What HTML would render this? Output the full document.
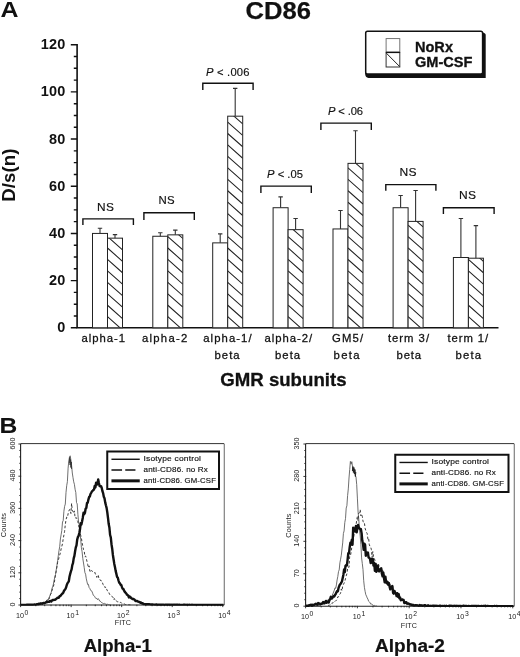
<!DOCTYPE html>
<html lang="en"><head><meta charset="utf-8"><title>CD86</title>
<style>html,body{margin:0;padding:0;background:#fff}svg{display:block}text{font-family:"Liberation Sans", sans-serif}</style>
</head><body>
<svg width="520" height="657" viewBox="0 0 520 657" font-family='"Liberation Sans", sans-serif' fill="#111">
<text x="0.52" y="17.3" font-size="21.8" font-weight="bold" textLength="17.98" lengthAdjust="spacingAndGlyphs" >A</text>
<text x="245.58" y="19.0" font-size="24.8" font-weight="bold" textLength="65.40" lengthAdjust="spacingAndGlyphs" stroke="#111" stroke-width="0.25">CD86</text>
<path d="M77.1 44.0 V327.8 H498.5" fill="none" stroke="#111" stroke-width="1.6"/>
<path d="M77.1 327.80 H70.8 M77.1 316.00 H73.8 M77.1 304.21 H73.8 M77.1 292.41 H73.8 M77.1 280.62 H70.8 M77.1 268.82 H73.8 M77.1 257.02 H73.8 M77.1 245.23 H73.8 M77.1 233.43 H70.8 M77.1 221.64 H73.8 M77.1 209.84 H73.8 M77.1 198.05 H73.8 M77.1 186.25 H70.8 M77.1 174.45 H73.8 M77.1 162.66 H73.8 M77.1 150.86 H73.8 M77.1 139.07 H70.8 M77.1 127.27 H73.8 M77.1 115.47 H73.8 M77.1 103.68 H73.8 M77.1 91.88 H70.8 M77.1 80.09 H73.8 M77.1 68.29 H73.8 M77.1 56.50 H73.8 M77.1 44.70 H70.8" fill="none" stroke="#111" stroke-width="1.4"/>
<text transform="translate(65.5 332.30) scale(1.05 1)" font-size="13.8" font-weight="bold" text-anchor="end" letter-spacing="0.2">0</text>
<text transform="translate(65.5 285.12) scale(1.05 1)" font-size="13.8" font-weight="bold" text-anchor="end" letter-spacing="0.2">20</text>
<text transform="translate(65.5 237.93) scale(1.05 1)" font-size="13.8" font-weight="bold" text-anchor="end" letter-spacing="0.2">40</text>
<text transform="translate(65.5 190.75) scale(1.05 1)" font-size="13.8" font-weight="bold" text-anchor="end" letter-spacing="0.2">60</text>
<text transform="translate(65.5 143.57) scale(1.05 1)" font-size="13.8" font-weight="bold" text-anchor="end" letter-spacing="0.2">80</text>
<text transform="translate(65.5 96.38) scale(1.05 1)" font-size="13.8" font-weight="bold" text-anchor="end" letter-spacing="0.2">100</text>
<text transform="translate(65.5 49.20) scale(1.05 1)" font-size="13.8" font-weight="bold" text-anchor="end" letter-spacing="0.2">120</text>
<text transform="translate(14.6 201.8) rotate(-90) scale(1 1.02)" font-size="18.6" font-weight="bold" letter-spacing="0.1">D/s(n)</text>
<defs><pattern id="h" width="8.1" height="8.1" patternUnits="userSpaceOnUse" patternTransform="rotate(43)"><line x1="0" y1="4" x2="8.1" y2="4" stroke="#111" stroke-width="1"/></pattern></defs>
<rect x="92.5" y="233.43" width="15.0" height="94.37" fill="#fff" stroke="#222" stroke-width="1"/>
<clipPath id="c92"><rect x="107.5" y="238.15" width="15.0" height="89.65"/></clipPath>
<rect x="107.5" y="238.15" width="15.0" height="89.65" fill="#fff"/>
<path d="M107.5 316.70 l15.0 13.3 M107.5 305.25 l15.0 13.3 M107.5 293.80 l15.0 13.3 M107.5 282.35 l15.0 13.3 M107.5 270.90 l15.0 13.3 M107.5 259.45 l15.0 13.3 M107.5 248.00 l15.0 13.3 M107.5 236.55 l15.0 13.3 M107.5 225.10 l15.0 13.3" clip-path="url(#c92)" fill="none" stroke="#222" stroke-width="1.05"/>
<rect x="107.5" y="238.15" width="15.0" height="89.65" fill="none" stroke="#222" stroke-width="1"/>
<path d="M100.00 233.43 V228.24 M97.80 228.24 h4.4" fill="none" stroke="#333" stroke-width="1.1"/>
<path d="M115.00 238.15 V234.61 M112.80 234.61 h4.4" fill="none" stroke="#333" stroke-width="1.1"/>
<rect x="152.8" y="236.26" width="15.0" height="91.54" fill="#fff" stroke="#222" stroke-width="1"/>
<clipPath id="c152"><rect x="167.8" y="234.85" width="15.0" height="92.95"/></clipPath>
<rect x="167.8" y="234.85" width="15.0" height="92.95" fill="#fff"/>
<path d="M167.8 316.70 l15.0 13.3 M167.8 305.25 l15.0 13.3 M167.8 293.80 l15.0 13.3 M167.8 282.35 l15.0 13.3 M167.8 270.90 l15.0 13.3 M167.8 259.45 l15.0 13.3 M167.8 248.00 l15.0 13.3 M167.8 236.55 l15.0 13.3 M167.8 225.10 l15.0 13.3" clip-path="url(#c152)" fill="none" stroke="#222" stroke-width="1.05"/>
<rect x="167.8" y="234.85" width="15.0" height="92.95" fill="none" stroke="#222" stroke-width="1"/>
<path d="M160.30 236.26 V232.73 M158.10 232.73 h4.4" fill="none" stroke="#333" stroke-width="1.1"/>
<path d="M175.30 234.85 V230.13 M173.10 230.13 h4.4" fill="none" stroke="#333" stroke-width="1.1"/>
<rect x="212.7" y="242.87" width="15.0" height="84.93" fill="#fff" stroke="#222" stroke-width="1"/>
<clipPath id="c212"><rect x="227.7" y="116.18" width="15.0" height="211.62"/></clipPath>
<rect x="227.7" y="116.18" width="15.0" height="211.62" fill="#fff"/>
<path d="M227.7 316.70 l15.0 13.3 M227.7 305.25 l15.0 13.3 M227.7 293.80 l15.0 13.3 M227.7 282.35 l15.0 13.3 M227.7 270.90 l15.0 13.3 M227.7 259.45 l15.0 13.3 M227.7 248.00 l15.0 13.3 M227.7 236.55 l15.0 13.3 M227.7 225.10 l15.0 13.3 M227.7 213.65 l15.0 13.3 M227.7 202.20 l15.0 13.3 M227.7 190.75 l15.0 13.3 M227.7 179.30 l15.0 13.3 M227.7 167.85 l15.0 13.3 M227.7 156.40 l15.0 13.3 M227.7 144.95 l15.0 13.3 M227.7 133.50 l15.0 13.3 M227.7 122.05 l15.0 13.3 M227.7 110.60 l15.0 13.3" clip-path="url(#c212)" fill="none" stroke="#222" stroke-width="1.05"/>
<rect x="227.7" y="116.18" width="15.0" height="211.62" fill="none" stroke="#222" stroke-width="1"/>
<path d="M220.20 242.87 V233.91 M218.00 233.91 h4.4" fill="none" stroke="#333" stroke-width="1.1"/>
<path d="M235.20 116.18 V88.34 M233.00 88.34 h4.4" fill="none" stroke="#333" stroke-width="1.1"/>
<rect x="273.1" y="207.72" width="15.0" height="120.08" fill="#fff" stroke="#222" stroke-width="1"/>
<clipPath id="c273"><rect x="288.1" y="229.66" width="15.0" height="98.14"/></clipPath>
<rect x="288.1" y="229.66" width="15.0" height="98.14" fill="#fff"/>
<path d="M288.1 316.70 l15.0 13.3 M288.1 305.25 l15.0 13.3 M288.1 293.80 l15.0 13.3 M288.1 282.35 l15.0 13.3 M288.1 270.90 l15.0 13.3 M288.1 259.45 l15.0 13.3 M288.1 248.00 l15.0 13.3 M288.1 236.55 l15.0 13.3 M288.1 225.10 l15.0 13.3" clip-path="url(#c273)" fill="none" stroke="#222" stroke-width="1.05"/>
<rect x="288.1" y="229.66" width="15.0" height="98.14" fill="none" stroke="#222" stroke-width="1"/>
<path d="M280.60 207.72 V196.87 M278.40 196.87 h4.4" fill="none" stroke="#333" stroke-width="1.1"/>
<path d="M295.60 229.66 V218.57 M293.40 218.57 h4.4" fill="none" stroke="#333" stroke-width="1.1"/>
<rect x="333.0" y="228.95" width="15.0" height="98.85" fill="#fff" stroke="#222" stroke-width="1"/>
<clipPath id="c333"><rect x="348.0" y="163.37" width="15.0" height="164.43"/></clipPath>
<rect x="348.0" y="163.37" width="15.0" height="164.43" fill="#fff"/>
<path d="M348.0 316.70 l15.0 13.3 M348.0 305.25 l15.0 13.3 M348.0 293.80 l15.0 13.3 M348.0 282.35 l15.0 13.3 M348.0 270.90 l15.0 13.3 M348.0 259.45 l15.0 13.3 M348.0 248.00 l15.0 13.3 M348.0 236.55 l15.0 13.3 M348.0 225.10 l15.0 13.3 M348.0 213.65 l15.0 13.3 M348.0 202.20 l15.0 13.3 M348.0 190.75 l15.0 13.3 M348.0 179.30 l15.0 13.3 M348.0 167.85 l15.0 13.3 M348.0 156.40 l15.0 13.3" clip-path="url(#c333)" fill="none" stroke="#222" stroke-width="1.05"/>
<rect x="348.0" y="163.37" width="15.0" height="164.43" fill="none" stroke="#222" stroke-width="1"/>
<path d="M340.50 228.95 V210.55 M338.30 210.55 h4.4" fill="none" stroke="#333" stroke-width="1.1"/>
<path d="M355.50 163.37 V130.81 M353.30 130.81 h4.4" fill="none" stroke="#333" stroke-width="1.1"/>
<rect x="393.1" y="207.72" width="15.0" height="120.08" fill="#fff" stroke="#222" stroke-width="1"/>
<clipPath id="c393"><rect x="408.1" y="221.40" width="15.0" height="106.40"/></clipPath>
<rect x="408.1" y="221.40" width="15.0" height="106.40" fill="#fff"/>
<path d="M408.1 316.70 l15.0 13.3 M408.1 305.25 l15.0 13.3 M408.1 293.80 l15.0 13.3 M408.1 282.35 l15.0 13.3 M408.1 270.90 l15.0 13.3 M408.1 259.45 l15.0 13.3 M408.1 248.00 l15.0 13.3 M408.1 236.55 l15.0 13.3 M408.1 225.10 l15.0 13.3 M408.1 213.65 l15.0 13.3" clip-path="url(#c393)" fill="none" stroke="#222" stroke-width="1.05"/>
<rect x="408.1" y="221.40" width="15.0" height="106.40" fill="none" stroke="#222" stroke-width="1"/>
<path d="M400.60 207.72 V195.45 M398.40 195.45 h4.4" fill="none" stroke="#333" stroke-width="1.1"/>
<path d="M415.60 221.40 V190.50 M413.40 190.50 h4.4" fill="none" stroke="#333" stroke-width="1.1"/>
<rect x="453.4" y="257.50" width="15.0" height="70.30" fill="#fff" stroke="#222" stroke-width="1"/>
<clipPath id="c453"><rect x="468.4" y="258.20" width="15.0" height="69.60"/></clipPath>
<rect x="468.4" y="258.20" width="15.0" height="69.60" fill="#fff"/>
<path d="M468.4 316.70 l15.0 13.3 M468.4 305.25 l15.0 13.3 M468.4 293.80 l15.0 13.3 M468.4 282.35 l15.0 13.3 M468.4 270.90 l15.0 13.3 M468.4 259.45 l15.0 13.3 M468.4 248.00 l15.0 13.3" clip-path="url(#c453)" fill="none" stroke="#222" stroke-width="1.05"/>
<rect x="468.4" y="258.20" width="15.0" height="69.60" fill="none" stroke="#222" stroke-width="1"/>
<path d="M460.90 257.50 V218.57 M458.70 218.57 h4.4" fill="none" stroke="#333" stroke-width="1.1"/>
<path d="M475.90 258.20 V225.65 M473.70 225.65 h4.4" fill="none" stroke="#333" stroke-width="1.1"/>
<path d="M82.9 225 V218.9 H133.4 V225" fill="none" stroke="#111" stroke-width="1.4"/>
<text x="97.06" y="210.6" font-size="10.6" textLength="17.19" lengthAdjust="spacingAndGlyphs" stroke="#111" stroke-width="0.15" letter-spacing="0.3">NS</text>
<path d="M143.9 220 V212.8 H194.3 V220" fill="none" stroke="#111" stroke-width="1.4"/>
<text x="158.50" y="204.1" font-size="10.6" textLength="16.50" lengthAdjust="spacingAndGlyphs" stroke="#111" stroke-width="0.15" letter-spacing="0.3">NS</text>
<path d="M202.8 90 V83.3 H253.1 V90" fill="none" stroke="#111" stroke-width="1.4"/>
<text x="206.04" y="75.6" font-size="11.2" textLength="43.50" lengthAdjust="spacing" stroke="#111" stroke-width="0.15"><tspan font-style="italic">P</tspan> &lt; .006</text>
<path d="M260.9 193.1 V186.1 H311.3 V193.1" fill="none" stroke="#111" stroke-width="1.4"/>
<text x="267.00" y="178.4" font-size="11.2" textLength="36.00" lengthAdjust="spacing" stroke="#111" stroke-width="0.15"><tspan font-style="italic">P</tspan> &lt; .05</text>
<path d="M320.9 129.9 V123.1 H371.3 V129.9" fill="none" stroke="#111" stroke-width="1.4"/>
<text x="327.96" y="115.1" font-size="11.2" textLength="35.10" lengthAdjust="spacing" stroke="#111" stroke-width="0.15"><tspan font-style="italic">P</tspan> &lt; .06</text>
<path d="M385.8 190.8 V184.6 H435.9 V190.8" fill="none" stroke="#111" stroke-width="1.4"/>
<text x="399.58" y="175.8" font-size="10.6" textLength="17.42" lengthAdjust="spacingAndGlyphs" stroke="#111" stroke-width="0.15" letter-spacing="0.3">NS</text>
<path d="M443.4 213.9 V207.7 H494.1 V213.9" fill="none" stroke="#111" stroke-width="1.4"/>
<text x="459.08" y="198.9" font-size="10.6" textLength="17.40" lengthAdjust="spacingAndGlyphs" stroke="#111" stroke-width="0.15" letter-spacing="0.3">NS</text>
<text x="81.50" y="341.5" font-size="11.3" textLength="43.50" lengthAdjust="spacing" stroke="#111" stroke-width="0.28">alpha-1</text>
<text x="142.00" y="341.5" font-size="11.3" textLength="45.25" lengthAdjust="spacing" stroke="#111" stroke-width="0.28">alpha-2</text>
<text x="203.25" y="341.5" font-size="11.3" textLength="48.35" lengthAdjust="spacing" stroke="#111" stroke-width="0.28">alpha-1/</text>
<text x="214.50" y="358.6" font-size="11.3" textLength="25.10" lengthAdjust="spacing" stroke="#111" stroke-width="0.28">beta</text>
<text x="264.50" y="341.5" font-size="11.3" textLength="47.60" lengthAdjust="spacing" stroke="#111" stroke-width="0.28">alpha-2/</text>
<text x="275.00" y="358.6" font-size="11.3" textLength="25.10" lengthAdjust="spacing" stroke="#111" stroke-width="0.28">beta</text>
<text x="332.02" y="341.5" font-size="11.3" textLength="31.08" lengthAdjust="spacing" stroke="#111" stroke-width="0.28">GM5/</text>
<text x="333.52" y="358.6" font-size="11.3" textLength="26.04" lengthAdjust="spacing" stroke="#111" stroke-width="0.28">beta</text>
<text x="387.96" y="341.5" font-size="11.3" textLength="41.08" lengthAdjust="spacing" stroke="#111" stroke-width="0.28">term 3/</text>
<text x="396.46" y="358.6" font-size="11.3" textLength="24.64" lengthAdjust="spacing" stroke="#111" stroke-width="0.28">beta</text>
<text x="447.46" y="341.5" font-size="11.3" textLength="40.64" lengthAdjust="spacing" stroke="#111" stroke-width="0.28">term 1/</text>
<text x="455.52" y="358.6" font-size="11.3" textLength="25.54" lengthAdjust="spacing" stroke="#111" stroke-width="0.28">beta</text>
<text x="220.25" y="386.3" font-size="18" font-weight="bold" textLength="126.25" lengthAdjust="spacingAndGlyphs" stroke="#111" stroke-width="0.3">GMR subunits</text>
<path d="M365.2 72 H482.5 V32.5 Q485.7 33 485.7 35 V78.1 H368.5 Q365.2 77.5 365.2 74 Z" fill="#111"/>
<rect x="365.7" y="31.3" width="116.9" height="42.7" rx="1.8" fill="#fff" stroke="#111" stroke-width="1.5"/>
<rect x="386.1" y="38.6" width="13.7" height="13.7" fill="#fff" stroke="#666" stroke-width="0.9"/>
<rect x="386.1" y="52.4" width="13.7" height="14.6" fill="#fff" stroke="#333" stroke-width="1"/>
<path d="M386.1 52.4 h13.7" stroke="#111" stroke-width="1.4" fill="none"/><path d="M386.3 53.1 L399.6 66.5" stroke="#222" stroke-width="1" fill="none"/>
<text x="414.96" y="52.3" font-size="14.2" font-weight="bold" textLength="38.04" lengthAdjust="spacingAndGlyphs" stroke="#111" stroke-width="0.3">NoRx</text>
<text x="414.96" y="66.6" font-size="14.2" font-weight="bold" textLength="57.56" lengthAdjust="spacingAndGlyphs" stroke="#111" stroke-width="0.3">GM-CSF</text>
<text x="-0.40" y="433.4" font-size="22" font-weight="bold" textLength="17.80" lengthAdjust="spacingAndGlyphs" >B</text>
<path d="M224.25 444 V605" fill="none" stroke="#555" stroke-width="0.9"/><path d="M20.6 443.6 H224.25" fill="none" stroke="#333" stroke-width="1"/>
<path d="M20.6 444 V605 H224.25" fill="none" stroke="#222" stroke-width="1.1"/>
<path d="M18.400000000000002 605.00 h2.8 M19.3 598.56 h1.6 M19.3 592.12 h1.6 M19.3 585.68 h1.6 M19.3 579.24 h1.6 M18.400000000000002 572.80 h2.8 M19.3 566.36 h1.6 M19.3 559.92 h1.6 M19.3 553.48 h1.6 M19.3 547.04 h1.6 M18.400000000000002 540.60 h2.8 M19.3 534.16 h1.6 M19.3 527.72 h1.6 M19.3 521.28 h1.6 M19.3 514.84 h1.6 M18.400000000000002 508.40 h2.8 M19.3 501.96 h1.6 M19.3 495.52 h1.6 M19.3 489.08 h1.6 M19.3 482.64 h1.6 M18.400000000000002 476.20 h2.8 M19.3 469.76 h1.6 M19.3 463.32 h1.6 M19.3 456.88 h1.6 M19.3 450.44 h1.6 M18.400000000000002 444.00 h2.8 M20.60 604.7 v2.4 M35.81 604.7 v1.5 M44.71 604.7 v1.5 M51.03 604.7 v1.5 M55.92 604.7 v1.5 M59.93 604.7 v1.5 M63.31 604.7 v1.5 M66.24 604.7 v1.5 M68.83 604.7 v1.5 M71.14 604.7 v2.4 M86.35 604.7 v1.5 M95.25 604.7 v1.5 M101.56 604.7 v1.5 M106.46 604.7 v1.5 M110.46 604.7 v1.5 M113.85 604.7 v1.5 M116.78 604.7 v1.5 M119.36 604.7 v1.5 M121.68 604.7 v2.4 M136.89 604.7 v1.5 M145.79 604.7 v1.5 M152.10 604.7 v1.5 M157.00 604.7 v1.5 M161.00 604.7 v1.5 M164.38 604.7 v1.5 M167.31 604.7 v1.5 M169.90 604.7 v1.5 M172.21 604.7 v2.4 M187.43 604.7 v1.5 M196.33 604.7 v1.5 M202.64 604.7 v1.5 M207.54 604.7 v1.5 M211.54 604.7 v1.5 M214.92 604.7 v1.5 M217.85 604.7 v1.5 M220.44 604.7 v1.5 M222.75 604.7 v2.4" fill="none" stroke="#222" stroke-width="0.9"/>
<text transform="translate(14.9 604.40) rotate(-90)" font-size="7.2" text-anchor="middle" fill="#222">0</text>
<text transform="translate(14.9 572.20) rotate(-90)" font-size="7.2" text-anchor="middle" fill="#222">120</text>
<text transform="translate(14.9 540.00) rotate(-90)" font-size="7.2" text-anchor="middle" fill="#222">240</text>
<text transform="translate(14.9 507.80) rotate(-90)" font-size="7.2" text-anchor="middle" fill="#222">360</text>
<text transform="translate(14.9 475.60) rotate(-90)" font-size="7.2" text-anchor="middle" fill="#222">480</text>
<text transform="translate(14.9 443.40) rotate(-90)" font-size="7.2" text-anchor="middle" fill="#222">600</text>
<text transform="translate(6.4 525.00) rotate(-90)" font-size="7.4" text-anchor="middle" fill="#222" letter-spacing="0.15">Counts</text>
<text x="16.00" y="618.2" font-size="7.2" fill="#222">10<tspan dy="-3.4" dx="0.6" font-size="6.8">0</tspan></text>
<text x="66.54" y="618.2" font-size="7.2" fill="#222">10<tspan dy="-3.4" dx="0.6" font-size="6.8">1</tspan></text>
<text x="117.08" y="618.2" font-size="7.2" fill="#222">10<tspan dy="-3.4" dx="0.6" font-size="6.8">2</tspan></text>
<text x="167.61" y="618.2" font-size="7.2" fill="#222">10<tspan dy="-3.4" dx="0.6" font-size="6.8">3</tspan></text>
<text x="218.15" y="618.2" font-size="7.2" fill="#222">10<tspan dy="-3.4" dx="0.6" font-size="6.8">4</tspan></text>
<text x="122.9" y="625.4" font-size="7.2" text-anchor="middle" fill="#222" letter-spacing="0.1">FITC</text>
<clipPath id="pc10"><rect x="20.6" y="444" width="203.65" height="161.7"/></clipPath><g clip-path="url(#pc10)">
<path d="M20.5 605.0 L21.2 605.0 L21.9 605.0 L22.6 604.9 L23.3 605.0 L24.0 604.9 L24.7 604.9 L25.4 605.0 L26.1 604.9 L26.8 604.9 L27.5 604.9 L28.2 604.9 L28.9 604.9 L29.6 604.9 L30.3 604.8 L31.0 604.8 L31.7 604.9 L32.4 604.9 L33.1 604.8 L33.8 604.8 L34.5 604.9 L35.2 604.8 L35.9 604.8 L36.6 604.9 L37.3 604.8 L38.0 604.7 L38.7 604.7 L39.4 604.5 L40.1 604.5 L40.8 604.4 L41.5 604.4 L42.2 604.3 L42.9 604.1 L43.6 603.6 L44.3 603.0 L45.0 602.3 L45.7 601.7 L46.4 601.4 L47.1 599.7 L47.8 600.1 L48.5 598.8 L49.2 597.2 L49.9 596.0 L50.6 593.9 L51.3 592.1 L52.0 588.3 L52.7 586.7 L53.4 584.2 L54.1 580.2 L54.8 577.1 L55.5 574.6 L56.2 570.0 L56.9 565.8 L57.6 560.6 L58.3 555.7 L59.0 550.5 L59.7 546.8 L60.4 539.0 L61.1 534.8 L61.8 530.4 L62.5 522.0 L63.2 520.6 L63.9 511.3 L64.6 506.4 L65.3 504.1 L66.0 492.5 L66.7 485.7 L67.4 481.6 L68.1 468.2 L68.8 460.9 L69.5 456.9 L70.2 455.8 L70.9 460.1 L71.6 465.5 L72.3 473.0 L73.0 477.6 L73.7 481.8 L74.4 484.3 L75.1 489.3 L75.8 492.5 L76.5 502.5 L77.2 503.9 L77.9 514.4 L78.6 522.3 L79.3 524.9 L80.0 532.4 L80.7 539.4 L81.4 547.6 L82.1 551.8 L82.8 558.5 L83.5 563.0 L84.2 567.4 L84.9 572.6 L85.6 574.2 L86.3 578.8 L87.0 581.9 L87.7 584.6 L88.4 584.3 L89.1 587.5 L89.8 588.4 L90.5 590.0 L91.2 590.9 L91.9 591.2 L92.6 593.2 L93.3 595.3 L94.0 595.8 L94.7 596.4 L95.4 597.9 L96.1 598.7 L96.8 598.2 L97.5 599.7 L98.2 598.7 L98.9 599.3 L99.6 601.0 L100.3 601.2 L101.0 602.1 L101.7 602.6 L102.4 603.0 L103.1 603.5 L103.8 603.5 L104.5 603.4 L105.2 603.9 L105.9 604.0 L106.6 604.4 L107.3 604.2 L108.0 604.5 L108.7 604.6 L109.4 604.8 L110.1 605.0" fill="none" stroke="#555" stroke-width="0.85" stroke-linejoin="round"/>
<path d="M38.0 605.0 L38.7 604.9 L39.4 604.8 L40.1 604.5 L40.8 604.7 L41.5 604.3 L42.2 604.4 L42.9 604.1 L43.6 603.6 L44.3 603.9 L45.0 602.3 L45.7 602.0 L46.4 601.6 L47.1 600.1 L47.8 600.5 L48.5 599.3 L49.2 598.8 L49.9 596.3 L50.6 594.1 L51.3 593.3 L52.0 590.6 L52.7 588.1 L53.4 586.3 L54.1 583.9 L54.8 579.4 L55.5 574.7 L56.2 571.2 L56.9 567.0 L57.6 562.4 L58.3 560.6 L59.0 557.4 L59.7 555.1 L60.4 552.7 L61.1 549.0 L61.8 546.3 L62.5 543.7 L63.2 538.8 L63.9 535.1 L64.6 531.3 L65.3 524.5 L66.0 519.8 L66.7 517.1 L67.4 517.4 L68.1 513.8 L68.8 511.1 L69.5 509.6 L70.2 509.7 L70.9 513.5 L71.6 503.4 L72.3 510.8 L73.0 511.1 L73.7 513.3 L74.4 510.9 L75.1 518.2 L75.8 517.7 L76.5 517.8 L77.2 520.4 L77.9 521.7 L78.6 525.8 L79.3 528.3 L80.0 532.9 L80.7 535.2 L81.4 537.9 L82.1 542.8 L82.8 546.3 L83.5 549.5 L84.2 550.4 L84.9 556.7 L85.6 556.0 L86.3 558.4 L87.0 561.6 L87.7 564.5 L88.4 567.6 L89.1 565.9 L89.8 571.0 L90.5 572.1 L91.2 570.3 L91.9 571.2 L92.6 571.4 L93.3 571.9 L94.0 571.7 L94.7 572.0 L95.4 574.1 L96.1 575.2 L96.8 577.4 L97.5 575.2 L98.2 575.0 L98.9 578.3 L99.6 578.6 L100.3 580.4 L101.0 580.7 L101.7 580.9 L102.4 582.4 L103.1 584.7 L103.8 585.3 L104.5 585.3 L105.2 587.9 L105.9 587.2 L106.6 589.1 L107.3 590.7 L108.0 590.8 L108.7 592.0 L109.4 594.0 L110.1 594.9 L110.8 595.6 L111.5 596.1 L112.2 596.4 L112.9 597.2 L113.6 599.7 L114.3 598.5 L115.0 600.0 L115.7 599.7 L116.4 601.1 L117.1 601.6 L117.8 601.8 L118.5 601.8 L119.2 601.9 L119.9 602.8 L120.6 602.4 L121.3 602.7 L122.0 603.6 L122.7 603.8 L123.4 603.8 L124.1 603.9 L124.8 604.1 L125.5 604.5 L126.2 604.5 L126.9 604.5 L127.6 604.7 L128.3 604.8 L129.0 604.7 L129.7 604.8 L130.4 604.9" fill="none" stroke="#3a3a3a" stroke-width="1" stroke-dasharray="2.6 2" stroke-linejoin="round"/>
<path d="M20.5 605.0 L21.2 605.0 L21.9 605.0 L22.6 605.0 L23.3 605.0 L24.0 604.9 L24.7 605.0 L25.4 604.9 L26.1 604.9 L26.8 604.8 L27.5 604.8 L28.2 604.7 L28.9 604.8 L29.6 604.7 L30.3 604.8 L31.0 604.7 L31.7 604.7 L32.4 604.9 L33.1 604.7 L33.8 604.6 L34.5 604.5 L35.2 604.7 L35.9 604.6 L36.6 604.2 L37.3 604.2 L38.0 604.1 L38.7 603.7 L39.4 603.8 L40.1 603.9 L40.8 603.3 L41.5 603.5 L42.2 603.7 L42.9 603.1 L43.6 603.0 L44.3 603.0 L45.0 602.9 L45.7 602.7 L46.4 602.0 L47.1 602.0 L47.8 602.0 L48.5 601.6 L49.2 601.8 L49.9 601.2 L50.6 600.9 L51.3 601.4 L52.0 600.5 L52.7 600.0 L53.4 600.1 L54.1 599.8 L54.8 599.9 L55.5 599.5 L56.2 598.9 L56.9 598.3 L57.6 597.7 L58.3 597.9 L59.0 597.6 L59.7 596.1 L60.4 595.8 L61.1 595.1 L61.8 594.1 L62.5 593.5 L63.2 592.9 L63.9 591.0 L64.6 590.1 L65.3 589.1 L66.0 587.7 L66.7 585.2 L67.4 583.4 L68.1 582.4 L68.8 581.4 L69.5 576.7 L70.2 573.9 L70.9 571.4 L71.6 569.4 L72.3 565.1 L73.0 563.1 L73.7 558.3 L74.4 555.9 L75.1 551.2 L75.8 547.4 L76.5 545.3 L77.2 539.6 L77.9 537.0 L78.6 535.9 L79.3 533.0 L80.0 529.3 L80.7 523.2 L81.4 524.4 L82.1 521.3 L82.8 517.7 L83.5 512.8 L84.2 514.2 L84.9 513.0 L85.6 508.8 L86.3 508.0 L87.0 503.1 L87.7 502.7 L88.4 499.6 L89.1 497.1 L89.8 496.6 L90.5 494.0 L91.2 492.8 L91.9 491.5 L92.6 490.9 L93.3 489.9 L94.0 489.4 L94.7 486.0 L95.4 487.4 L96.1 482.7 L96.8 484.6 L97.5 483.8 L98.2 479.4 L98.9 483.0 L99.6 486.1 L100.3 486.2 L101.0 486.1 L101.7 487.7 L102.4 491.0 L103.1 493.1 L103.8 496.7 L104.5 498.3 L105.2 502.4 L105.9 505.3 L106.6 507.9 L107.3 512.4 L108.0 517.9 L108.7 524.1 L109.4 527.5 L110.1 535.0 L110.8 537.3 L111.5 544.2 L112.2 548.7 L112.9 555.0 L113.6 559.5 L114.3 563.9 L115.0 567.3 L115.7 571.1 L116.4 573.9 L117.1 577.1 L117.8 577.7 L118.5 580.5 L119.2 582.7 L119.9 583.2 L120.6 584.9 L121.3 585.0 L122.0 587.2 L122.7 588.9 L123.4 588.9 L124.1 590.7 L124.8 591.9 L125.5 592.7 L126.2 593.3 L126.9 594.6 L127.6 595.0 L128.3 595.7 L129.0 597.5 L129.7 596.6 L130.4 597.0 L131.1 597.9 L131.8 598.4 L132.5 599.0 L133.2 598.9 L133.9 599.3 L134.6 599.8 L135.3 600.7 L136.0 601.1 L136.7 600.9 L137.4 601.2 L138.1 601.6 L138.8 601.7 L139.5 602.1 L140.2 602.7 L140.9 602.5 L141.6 603.1 L142.3 603.6 L143.0 603.4 L143.7 604.1 L144.4 604.1 L145.1 604.1 L145.8 604.4 L146.5 604.3 L147.2 604.3 L147.9 604.3 L148.6 604.3 L149.3 604.3 L150.0 604.4 L150.7 604.5 L151.4 604.4 L152.1 604.5 L152.8 604.5 L153.5 604.6 L154.2 604.6 L154.9 604.7 L155.6 604.7 L156.3 604.5 L157.0 604.7 L157.7 604.7 L158.4 604.8 L159.1 604.8 L159.8 604.8 L160.5 604.8 L161.2 604.8 L161.9 604.8 L162.6 604.8 L163.3 604.7 L164.0 605.0 L164.7 604.8 L165.4 604.7 L166.1 604.7 L166.8 604.8 L167.5 604.8 L168.2 604.7 L168.9 604.7 L169.6 604.8 L170.3 604.8 L171.0 604.9 L171.7 604.8 L172.4 604.9 L173.1 604.7 L173.8 604.9 L174.5 604.8 L175.2 604.8 L175.9 604.9 L176.6 604.7 L177.3 604.8 L178.0 604.8 L178.7 604.9 L179.4 604.8 L180.1 604.9 L180.8 604.9 L181.5 604.9 L182.2 604.9 L182.9 604.9 L183.6 604.8 L184.3 604.8 L185.0 604.8 L185.7 604.9 L186.4 604.9 L187.1 604.8 L187.8 604.9 L188.5 604.9 L189.2 604.8 L189.9 604.9 L190.6 604.9 L191.3 604.9 L192.0 604.8 L192.7 604.9 L193.4 604.9 L194.1 604.9 L194.8 604.9 L195.5 604.9 L196.2 605.0 L196.9 604.9 L197.6 604.9 L198.3 604.9 L199.0 604.9 L199.7 604.9 L200.4 605.0 L201.1 604.9 L201.8 605.0 L202.5 604.9 L203.2 605.0 L203.9 605.0 L204.6 604.9 L205.3 605.0 L206.0 604.9 L206.7 604.9 L207.4 604.9 L208.1 604.9 L208.8 605.0 L209.5 605.0 L210.2 604.9 L210.9 605.0 L211.6 605.0 L212.3 604.9 L213.0 605.0 L213.7 605.0 L214.4 605.0 L215.1 605.0 L215.8 605.0 L216.5 605.0 L217.2 605.0 L217.9 605.0 L218.6 605.0 L219.3 604.9 L220.0 605.0 L220.7 605.0 L221.4 605.0 L222.1 605.0 L222.8 605.0 L223.5 605.0" fill="none" stroke="#111" stroke-width="2.4" stroke-linejoin="round"/>
</g>
<rect x="107.25" y="451.5" width="111.75" height="37.5" fill="#fff" stroke="#111" stroke-width="2"/>
<path d="M111.45 459.27 h28.3" stroke="#111" stroke-width="1.4"/>
<path d="M111.45 470.05 h10.6 M125.25 470.05 h10.2" stroke="#111" stroke-width="1.5"/>
<path d="M111.45 480.84 h28.3" stroke="#111" stroke-width="3"/>
<text x="143.55" y="460.87" font-size="7.7" textLength="57.5" lengthAdjust="spacingAndGlyphs" fill="#111" letter-spacing="0.15" stroke="#111" stroke-width="0.15">Isotype control</text>
<text x="143.55" y="471.95" font-size="7.7" textLength="64.5" lengthAdjust="spacingAndGlyphs" fill="#111" letter-spacing="0.15" stroke="#111" stroke-width="0.15">anti-CD86. no Rx</text>
<text x="143.55" y="482.64" font-size="7.7" textLength="72.5" lengthAdjust="spacingAndGlyphs" fill="#111" letter-spacing="0.15" stroke="#111" stroke-width="0.15">anti-CD86. GM-CSF</text>
<text x="83.66" y="651.6" font-size="18" font-weight="bold" textLength="68.18" lengthAdjust="spacingAndGlyphs" stroke="#111" stroke-width="0.2">Alpha-1</text>
<path d="M514.25 444 V606.2" fill="none" stroke="#555" stroke-width="0.9"/><path d="M305.6 443.6 H514.25" fill="none" stroke="#333" stroke-width="1"/>
<path d="M305.6 444 V606.2 H514.25" fill="none" stroke="#222" stroke-width="1.1"/>
<path d="M303.40000000000003 606.20 h2.8 M304.3 599.71 h1.6 M304.3 593.22 h1.6 M304.3 586.74 h1.6 M304.3 580.25 h1.6 M303.40000000000003 573.76 h2.8 M304.3 567.27 h1.6 M304.3 560.78 h1.6 M304.3 554.30 h1.6 M304.3 547.81 h1.6 M303.40000000000003 541.32 h2.8 M304.3 534.83 h1.6 M304.3 528.34 h1.6 M304.3 521.86 h1.6 M304.3 515.37 h1.6 M303.40000000000003 508.88 h2.8 M304.3 502.39 h1.6 M304.3 495.90 h1.6 M304.3 489.42 h1.6 M304.3 482.93 h1.6 M303.40000000000003 476.44 h2.8 M304.3 469.95 h1.6 M304.3 463.46 h1.6 M304.3 456.98 h1.6 M304.3 450.49 h1.6 M303.40000000000003 444.00 h2.8 M305.60 605.9000000000001 v2.4 M321.19 605.9000000000001 v1.5 M330.31 605.9000000000001 v1.5 M336.78 605.9000000000001 v1.5 M341.80 605.9000000000001 v1.5 M345.90 605.9000000000001 v1.5 M349.37 605.9000000000001 v1.5 M352.37 605.9000000000001 v1.5 M355.02 605.9000000000001 v1.5 M357.39 605.9000000000001 v2.4 M372.98 605.9000000000001 v1.5 M382.10 605.9000000000001 v1.5 M388.57 605.9000000000001 v1.5 M393.59 605.9000000000001 v1.5 M397.69 605.9000000000001 v1.5 M401.15 605.9000000000001 v1.5 M404.16 605.9000000000001 v1.5 M406.81 605.9000000000001 v1.5 M409.18 605.9000000000001 v2.4 M424.76 605.9000000000001 v1.5 M433.88 605.9000000000001 v1.5 M440.35 605.9000000000001 v1.5 M445.37 605.9000000000001 v1.5 M449.47 605.9000000000001 v1.5 M452.94 605.9000000000001 v1.5 M455.94 605.9000000000001 v1.5 M458.59 605.9000000000001 v1.5 M460.96 605.9000000000001 v2.4 M476.55 605.9000000000001 v1.5 M485.67 605.9000000000001 v1.5 M492.14 605.9000000000001 v1.5 M497.16 605.9000000000001 v1.5 M501.26 605.9000000000001 v1.5 M504.73 605.9000000000001 v1.5 M507.73 605.9000000000001 v1.5 M510.38 605.9000000000001 v1.5 M512.75 605.9000000000001 v2.4" fill="none" stroke="#222" stroke-width="0.9"/>
<text transform="translate(299.4 605.60) rotate(-90)" font-size="7.2" text-anchor="middle" fill="#222">0</text>
<text transform="translate(299.4 573.16) rotate(-90)" font-size="7.2" text-anchor="middle" fill="#222">70</text>
<text transform="translate(299.4 540.72) rotate(-90)" font-size="7.2" text-anchor="middle" fill="#222">140</text>
<text transform="translate(299.4 508.28) rotate(-90)" font-size="7.2" text-anchor="middle" fill="#222">210</text>
<text transform="translate(299.4 475.84) rotate(-90)" font-size="7.2" text-anchor="middle" fill="#222">280</text>
<text transform="translate(299.4 443.40) rotate(-90)" font-size="7.2" text-anchor="middle" fill="#222">350</text>
<text transform="translate(290.7 525.60) rotate(-90)" font-size="7.4" text-anchor="middle" fill="#222" letter-spacing="0.15">Counts</text>
<text x="301.00" y="619.4000000000001" font-size="7.2" fill="#222">10<tspan dy="-3.4" dx="0.6" font-size="6.8">0</tspan></text>
<text x="352.79" y="619.4000000000001" font-size="7.2" fill="#222">10<tspan dy="-3.4" dx="0.6" font-size="6.8">1</tspan></text>
<text x="404.57" y="619.4000000000001" font-size="7.2" fill="#222">10<tspan dy="-3.4" dx="0.6" font-size="6.8">2</tspan></text>
<text x="456.36" y="619.4000000000001" font-size="7.2" fill="#222">10<tspan dy="-3.4" dx="0.6" font-size="6.8">3</tspan></text>
<text x="508.15" y="619.4000000000001" font-size="7.2" fill="#222">10<tspan dy="-3.4" dx="0.6" font-size="6.8">4</tspan></text>
<text x="408.9" y="627.5" font-size="7.2" text-anchor="middle" fill="#222" letter-spacing="0.1">FITC</text>
<clipPath id="pc20"><rect x="305.6" y="444" width="208.64999999999998" height="162.90000000000003"/></clipPath><g clip-path="url(#pc20)">
<path d="M305.6 606.2 L306.3 606.2 L307.0 606.2 L307.7 606.1 L308.4 606.2 L309.1 606.0 L309.8 606.0 L310.5 606.0 L311.2 606.1 L311.9 606.0 L312.6 605.9 L313.3 606.1 L314.0 606.1 L314.7 605.8 L315.4 606.0 L316.1 605.8 L316.8 605.9 L317.5 605.8 L318.2 605.5 L318.9 605.6 L319.6 605.2 L320.3 605.0 L321.0 604.9 L321.7 604.3 L322.4 604.2 L323.1 604.4 L323.8 604.2 L324.5 603.7 L325.2 602.6 L325.9 602.6 L326.6 602.5 L327.3 601.7 L328.0 599.8 L328.7 599.0 L329.4 599.6 L330.1 599.6 L330.8 598.0 L331.5 597.5 L332.2 595.4 L332.9 593.7 L333.6 592.0 L334.3 590.2 L335.0 587.8 L335.7 588.3 L336.4 584.9 L337.1 580.0 L337.8 576.5 L338.5 571.6 L339.2 569.9 L339.9 562.8 L340.6 559.2 L341.3 555.2 L342.0 548.9 L342.7 542.9 L343.4 533.5 L344.1 530.9 L344.8 522.4 L345.5 518.6 L346.2 508.1 L346.9 505.7 L347.6 495.6 L348.3 488.9 L349.0 478.0 L349.7 469.7 L350.4 461.4 L351.1 464.2 L351.8 461.7 L352.5 466.4 L353.2 469.6 L353.9 469.1 L354.6 469.8 L355.3 475.5 L356.0 477.0 L356.7 484.5 L357.4 498.1 L358.1 512.3 L358.8 519.5 L359.5 529.9 L360.2 535.9 L360.9 544.7 L361.6 557.9 L362.3 563.6 L363.0 569.5 L363.7 580.7 L364.4 587.3 L365.1 591.3 L365.8 594.7 L366.5 596.1 L367.2 597.9 L367.9 599.1 L368.6 601.2 L369.3 601.8 L370.0 602.7 L370.7 604.1 L371.4 604.0 L372.1 604.5 L372.8 604.8 L373.5 605.9 L374.2 605.4 L374.9 605.8 L375.6 606.1 L376.3 606.0 L377.0 606.1" fill="none" stroke="#555" stroke-width="0.85" stroke-linejoin="round"/>
<path d="M328.0 605.8 L328.7 605.3 L329.4 605.3 L330.1 604.5 L330.8 604.0 L331.5 603.3 L332.2 603.6 L332.9 602.3 L333.6 602.6 L334.3 601.6 L335.0 601.4 L335.7 600.7 L336.4 600.4 L337.1 599.4 L337.8 596.8 L338.5 596.8 L339.2 595.2 L339.9 594.1 L340.6 593.2 L341.3 589.1 L342.0 590.8 L342.7 585.7 L343.4 584.5 L344.1 583.1 L344.8 581.5 L345.5 578.6 L346.2 575.9 L346.9 573.7 L347.6 568.8 L348.3 567.2 L349.0 567.4 L349.7 556.0 L350.4 555.8 L351.1 552.3 L351.8 547.0 L352.5 544.3 L353.2 540.5 L353.9 535.7 L354.6 531.8 L355.3 525.8 L356.0 525.7 L356.7 520.1 L357.4 516.4 L358.1 520.6 L358.8 512.9 L359.5 512.4 L360.2 509.8 L360.9 515.9 L361.6 514.1 L362.3 516.4 L363.0 521.2 L363.7 522.9 L364.4 522.8 L365.1 528.2 L365.8 530.7 L366.5 532.4 L367.2 533.6 L367.9 539.1 L368.6 538.1 L369.3 544.5 L370.0 546.6 L370.7 547.1 L371.4 549.7 L372.1 557.5 L372.8 551.6 L373.5 556.6 L374.2 557.5 L374.9 560.4 L375.6 561.7 L376.3 564.0 L377.0 564.9 L377.7 564.8 L378.4 563.8 L379.1 566.3 L379.8 568.5 L380.5 569.4 L381.2 571.3 L381.9 570.4 L382.6 570.1 L383.3 572.3 L384.0 574.9 L384.7 577.4 L385.4 579.0 L386.1 580.3 L386.8 579.3 L387.5 581.5 L388.2 583.5 L388.9 584.1 L389.6 585.6 L390.3 584.4 L391.0 587.2 L391.7 584.8 L392.4 588.0 L393.1 589.4 L393.8 589.9 L394.5 591.9 L395.2 591.8 L395.9 592.8 L396.6 594.2 L397.3 593.9 L398.0 596.5 L398.7 595.8 L399.4 597.5 L400.1 597.9 L400.8 598.2 L401.5 599.1 L402.2 599.8 L402.9 599.9 L403.6 602.0 L404.3 600.9 L405.0 602.0 L405.7 603.0 L406.4 603.2 L407.1 603.7 L407.8 603.0 L408.5 603.8 L409.2 604.3 L409.9 604.9 L410.6 604.7 L411.3 605.2 L412.0 605.8" fill="none" stroke="#3a3a3a" stroke-width="1" stroke-dasharray="2.6 2" stroke-linejoin="round"/>
<path d="M305.6 606.1 L306.3 605.9 L307.0 605.6 L307.7 605.9 L308.4 605.8 L309.1 605.1 L309.8 605.2 L310.5 604.8 L311.2 604.6 L311.9 605.7 L312.6 604.7 L313.3 605.1 L314.0 604.8 L314.7 604.6 L315.4 603.9 L316.1 603.8 L316.8 604.5 L317.5 604.7 L318.2 603.0 L318.9 603.3 L319.6 603.7 L320.3 604.3 L321.0 603.8 L321.7 603.8 L322.4 603.2 L323.1 602.1 L323.8 602.4 L324.5 603.3 L325.2 602.2 L325.9 600.9 L326.6 602.8 L327.3 601.7 L328.0 601.7 L328.7 602.6 L329.4 600.1 L330.1 599.4 L330.8 596.8 L331.5 598.6 L332.2 598.3 L332.9 596.8 L333.6 596.0 L334.3 596.4 L335.0 594.9 L335.7 594.0 L336.4 592.3 L337.1 591.1 L337.8 591.4 L338.5 588.2 L339.2 586.2 L339.9 584.5 L340.6 583.8 L341.3 582.7 L342.0 581.3 L342.7 578.1 L343.4 574.7 L344.1 569.4 L344.8 572.0 L345.5 565.8 L346.2 565.1 L346.9 565.5 L347.6 559.7 L348.3 553.1 L349.0 553.5 L349.7 547.1 L350.4 542.8 L351.1 544.7 L351.8 539.8 L352.5 544.7 L353.2 527.6 L353.9 528.9 L354.6 528.9 L355.3 531.5 L356.0 525.9 L356.7 532.3 L357.4 527.7 L358.1 525.0 L358.8 527.5 L359.5 528.5 L360.2 528.9 L360.9 529.2 L361.6 533.2 L362.3 540.8 L363.0 544.0 L363.7 549.8 L364.4 543.7 L365.1 544.9 L365.8 555.7 L366.5 552.5 L367.2 554.3 L367.9 552.5 L368.6 557.5 L369.3 557.9 L370.0 558.9 L370.7 563.0 L371.4 559.0 L372.1 562.6 L372.8 558.9 L373.5 565.5 L374.2 562.8 L374.9 570.9 L375.6 564.2 L376.3 571.9 L377.0 566.8 L377.7 565.7 L378.4 570.7 L379.1 571.4 L379.8 569.4 L380.5 569.6 L381.2 568.2 L381.9 573.8 L382.6 576.4 L383.3 572.6 L384.0 578.2 L384.7 582.2 L385.4 576.7 L386.1 582.4 L386.8 583.3 L387.5 582.1 L388.2 584.7 L388.9 583.0 L389.6 586.6 L390.3 589.4 L391.0 587.0 L391.7 587.4 L392.4 586.1 L393.1 592.9 L393.8 593.7 L394.5 591.0 L395.2 592.7 L395.9 593.3 L396.6 596.1 L397.3 593.1 L398.0 596.8 L398.7 594.2 L399.4 598.3 L400.1 597.5 L400.8 600.2 L401.5 600.0 L402.2 599.4 L402.9 599.8 L403.6 600.0 L404.3 603.0 L405.0 603.0 L405.7 602.2 L406.4 602.2 L407.1 603.7 L407.8 603.6 L408.5 603.5 L409.2 604.0 L409.9 604.5 L410.6 604.3 L411.3 604.8 L412.0 604.7 L412.7 605.1 L413.4 604.9 L414.1 605.5 L414.8 605.4 L415.5 605.2 L416.2 605.4 L416.9 605.3 L417.6 605.4 L418.3 605.6 L419.0 605.8 L419.7 605.0 L420.4 605.5 L421.1 605.6 L421.8 605.3 L422.5 605.7 L423.2 605.6 L423.9 605.5 L424.6 605.2 L425.3 605.3 L426.0 605.8 L426.7 606.2 L427.4 605.7 L428.1 605.3 L428.8 606.1 L429.5 605.9 L430.2 606.1 L430.9 605.8 L431.6 606.1 L432.3 606.0 L433.0 605.7 L433.7 605.8 L434.4 605.9 L435.1 605.7 L435.8 606.2 L436.5 605.8 L437.2 606.1 L437.9 605.9 L438.6 606.1 L439.3 606.0 L440.0 605.6 L440.7 605.9 L441.4 606.1 L442.1 605.9 L442.8 606.2 L443.5 606.2 L444.2 605.8 L444.9 606.0 L445.6 606.1 L446.3 605.8 L447.0 606.2 L447.7 606.1 L448.4 606.0 L449.1 605.8 L449.8 605.8 L450.5 605.8 L451.2 606.1 L451.9 605.8 L452.6 606.1 L453.3 606.2 L454.0 605.8 L454.7 605.9 L455.4 606.2 L456.1 606.0 L456.8 605.8 L457.5 606.0 L458.2 606.0 L458.9 606.1 L459.6 605.9 L460.3 606.0 L461.0 606.0 L461.7 606.1 L462.4 606.0 L463.1 605.8 L463.8 605.8 L464.5 606.2 L465.2 606.0 L465.9 606.0 L466.6 606.0 L467.3 606.1 L468.0 606.2 L468.7 606.0 L469.4 606.2 L470.1 606.1 L470.8 606.1 L471.5 605.9 L472.2 606.0 L472.9 606.2 L473.6 606.0 L474.3 606.0 L475.0 606.0 L475.7 605.9 L476.4 606.0 L477.1 606.1 L477.8 606.0 L478.5 605.9 L479.2 606.2 L479.9 606.2 L480.6 606.1 L481.3 606.0 L482.0 606.2 L482.7 606.1 L483.4 605.9 L484.1 606.0 L484.8 605.9 L485.5 605.8 L486.2 606.2 L486.9 606.2 L487.6 605.9 L488.3 606.2 L489.0 606.1 L489.7 606.1 L490.4 606.2 L491.1 606.2 L491.8 606.1 L492.5 606.1 L493.2 606.2 L493.9 606.2 L494.6 606.0 L495.3 606.1 L496.0 606.1 L496.7 606.0 L497.4 606.1 L498.1 606.2 L498.8 606.2 L499.5 606.1 L500.2 606.1 L500.9 606.1 L501.6 606.2 L502.3 606.1 L503.0 606.1 L503.7 606.1 L504.4 606.2 L505.1 606.2 L505.8 606.2 L506.5 606.1 L507.2 606.2 L507.9 606.2 L508.6 606.2 L509.3 606.2 L510.0 606.2 L510.7 606.1 L511.4 606.2 L512.1 606.2 L512.8 606.2 L513.5 606.2" fill="none" stroke="#111" stroke-width="2.4" stroke-linejoin="round"/>
</g>
<rect x="395.25" y="454.75" width="113.25" height="37.25" fill="#fff" stroke="#111" stroke-width="2"/>
<path d="M399.45 462.46 h28.3" stroke="#111" stroke-width="1.4"/>
<path d="M399.45 473.18 h10.6 M413.25 473.18 h10.2" stroke="#111" stroke-width="1.5"/>
<path d="M399.45 483.89 h28.3" stroke="#111" stroke-width="3"/>
<text x="431.55" y="464.06" font-size="7.7" textLength="57.5" lengthAdjust="spacingAndGlyphs" fill="#111" letter-spacing="0.15" stroke="#111" stroke-width="0.15">Isotype control</text>
<text x="431.55" y="475.08" font-size="7.7" textLength="64.5" lengthAdjust="spacingAndGlyphs" fill="#111" letter-spacing="0.15" stroke="#111" stroke-width="0.15">anti-CD86. no Rx</text>
<text x="431.55" y="485.69" font-size="7.7" textLength="72.5" lengthAdjust="spacingAndGlyphs" fill="#111" letter-spacing="0.15" stroke="#111" stroke-width="0.15">anti-CD86. GM-CSF</text>
<text x="375.08" y="651.6" font-size="18" font-weight="bold" textLength="69.84" lengthAdjust="spacingAndGlyphs" stroke="#111" stroke-width="0.2">Alpha-2</text>
<path d="M352.4 471 L352.9 466.5 L353.4 472.5 L353.9 467.5 L354.4 474 L354.9 469.5 L355.4 476.5 L355.8 472" fill="none" stroke="#222" stroke-width="1"/>
<path d="M69.3 463 L69.7 457.5 L70.1 465 L70.5 459.5 L70.9 467.5 L71.3 462 L71.6 469" fill="none" stroke="#333" stroke-width="0.9"/>
</svg>
</body></html>
